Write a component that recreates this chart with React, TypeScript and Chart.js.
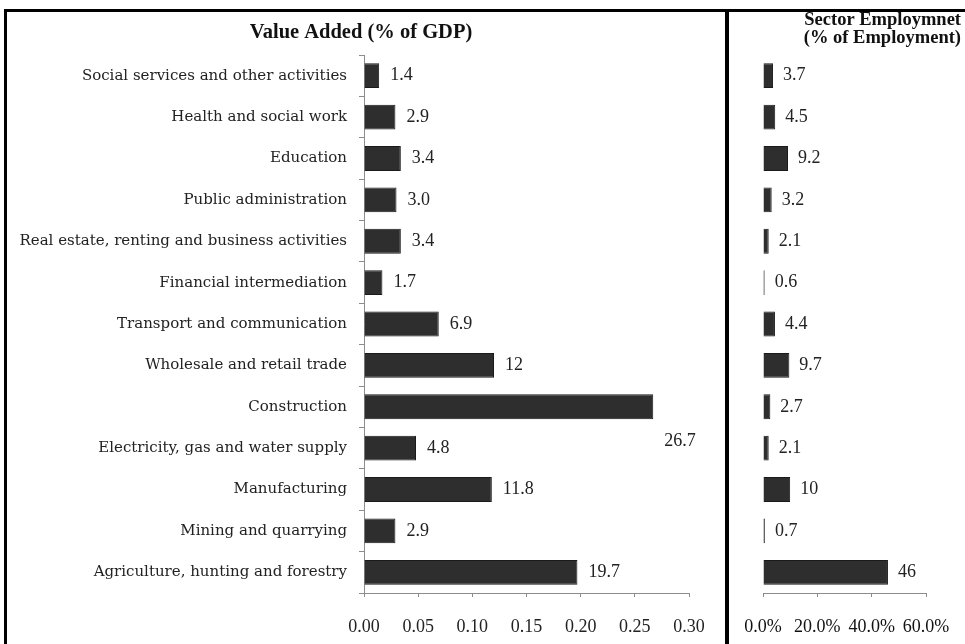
import React, { useEffect, useRef } from "react";
import { Chart, registerables } from "chart.js";

Chart.register(...registerables);

const categories = [
  "Social services and other activities",
  "Health and social work",
  "Education",
  "Public administration",
  "Real estate, renting and business activities",
  "Financial intermediation",
  "Transport and communication",
  "Wholesale and retail trade",
  "Construction",
  "Electricity, gas and water supply",
  "Manufacturing",
  "Mining and quarrying",
  "Agriculture, hunting and forestry",
];

const valueAdded = [0.014, 0.029, 0.034, 0.03, 0.034, 0.017, 0.069, 0.12, 0.267, 0.048, 0.118, 0.029, 0.197];
const valueAddedLabels = ["1.4", "2.9", "3.4", "3.0", "3.4", "1.7", "6.9", "12", "26.7", "4.8", "11.8", "2.9", "19.7"];
const valueAddedTicks = [0, 0.05, 0.1, 0.15, 0.2, 0.25, 0.3];

const employment = [3.7, 4.5, 9.2, 3.2, 2.1, 0.6, 4.4, 9.7, 2.7, 2.1, 10, 0.7, 46];
const employmentLabels = ["3.7", "4.5", "9.2", "3.2", "2.1", "0.6", "4.4", "9.7", "2.7", "2.1", "10", "0.7", "46"];
const employmentTicks = [0, 20, 40, 60];

const leftTitle = "Value Added (% of GDP)";
const rightTitle = ["Sector Employmnet", "(% of Employment)"];

const SERIF = "'Liberation Serif', 'Times New Roman', serif";
const CAT_FONT = "'DejaVu Serif', serif";
const BAR_FILL = "#2e2e2e";
const BAR_EDGE = "#1a1a1a";
const AXIS = "#8c8c8c";
const TEXT = "#222222";

function labelPlugin(labels: string[], shiftFor: (i: number) => { dx: number; dy: number }) {
  return {
    id: "barLabels",
    afterDatasetsDraw(chart: any) {
      const meta = chart.getDatasetMeta(0);
      const ctx = chart.ctx;
      ctx.save();
      ctx.font = `18px ${SERIF}`;
      ctx.fillStyle = TEXT;
      ctx.textAlign = "left";
      ctx.textBaseline = "middle";
      meta.data.forEach((bar: any, i: number) => {
        const s = shiftFor(i);
        ctx.fillText(labels[i], bar.x + 11 + s.dx, bar.y + s.dy);
      });
      ctx.restore();
    },
  };
}

function titlePlugin(lines: string[], x: number, ys: number[], align: CanvasTextAlign, size: number) {
  return {
    id: "panelTitle",
    afterDraw(chart: any) {
      const ctx = chart.ctx;
      ctx.save();
      ctx.font = `bold ${size}px ${SERIF}`;
      ctx.fillStyle = "#111";
      ctx.textAlign = align;
      ctx.textBaseline = "middle";
      lines.forEach((t, i) => ctx.fillText(t, x, ys[i]));
      ctx.restore();
    },
  };
}

const fitX = (scale: any) => {
  scale.height = 51;
  scale.paddingLeft = 0;
  scale.paddingRight = 0;
};

export default function App() {
  const leftRef = useRef<HTMLCanvasElement>(null);
  const rightRef = useRef<HTMLCanvasElement>(null);

  useEffect(() => {
    document.body.style.margin = "0";
    const constructionIndex = categories.indexOf("Construction");

    const left = new Chart(leftRef.current!, {
      type: "bar",
      data: {
        labels: categories,
        datasets: [
          {
            data: valueAdded,
            backgroundColor: BAR_FILL,
            borderColor: BAR_EDGE,
            borderWidth: 1,
            categoryPercentage: 1,
            barPercentage: 0.6,
          },
        ],
      },
      options: {
        indexAxis: "y",
        responsive: false,
        animation: false,
        layout: { padding: { left: 0, top: 55, right: 36, bottom: 0 } },
        plugins: { legend: { display: false }, tooltip: { enabled: false } },
        scales: {
          x: {
            min: 0,
            max: 0.3,
            afterBuildTicks: (scale: any) => {
              scale.ticks = valueAddedTicks.map((v) => ({ value: v }));
            },
            afterFit: fitX,
            grid: { drawOnChartArea: false, drawTicks: true, tickLength: 4, color: AXIS },
            border: { color: AXIS, width: 1 },
            ticks: {
              padding: 19,
              color: TEXT,
              font: { family: SERIF, size: 18 },
              callback: (v: any) => Number(v).toFixed(2),
            },
          },
          y: {
            afterFit: (scale: any) => {
              scale.width = 364;
            },
            grid: { drawOnChartArea: false, drawTicks: true, tickLength: 5, color: AXIS, offset: true },
            border: { color: AXIS, width: 1 },
            ticks: { padding: 12, color: TEXT, font: { family: CAT_FONT, size: 15 } },
          },
        },
      },
      plugins: [
        labelPlugin(valueAddedLabels, (i) => (i === constructionIndex ? { dx: 0, dy: 34 } : { dx: 0, dy: 0 })),
        titlePlugin([leftTitle], 361, [33], "center", 20.5),
      ],
    } as any);

    const right = new Chart(rightRef.current!, {
      type: "bar",
      data: {
        labels: categories,
        datasets: [
          {
            data: employment,
            backgroundColor: BAR_FILL,
            borderColor: BAR_EDGE,
            borderWidth: 1,
            categoryPercentage: 1,
            barPercentage: 0.6,
          },
        ],
      },
      options: {
        indexAxis: "y",
        responsive: false,
        animation: false,
        layout: { padding: { left: 34, top: 55, right: 39, bottom: 0 } },
        plugins: { legend: { display: false }, tooltip: { enabled: false } },
        scales: {
          x: {
            min: 0,
            max: 60,
            afterBuildTicks: (scale: any) => {
              scale.ticks = employmentTicks.map((v) => ({ value: v }));
            },
            afterFit: fitX,
            grid: { drawOnChartArea: false, drawTicks: true, tickLength: 4, color: AXIS },
            border: { color: AXIS, width: 1 },
            ticks: {
              padding: 19,
              color: "#111",
              font: { family: SERIF, size: 18 },
              maxRotation: 0,
              autoSkip: false,
              callback: (v: any) => Number(v).toFixed(1) + "%",
            },
          },
          y: { display: false },
        },
      },
      plugins: [
        labelPlugin(employmentLabels, () => ({ dx: -1, dy: 0 })),
        titlePlugin(rightTitle, 232, [20, 38], "right", 18.5),
      ],
    } as any);

    return () => {
      left.destroy();
      right.destroy();
    };
  }, []);

  return (
    <div style={{ position: "relative", width: 965, height: 644, background: "#fff", overflow: "hidden" }}>
      <canvas ref={leftRef} width={725} height={644} style={{ position: "absolute", left: 0, top: 0, display: "block" }} />
      <canvas ref={rightRef} width={236} height={644} style={{ position: "absolute", left: 729, top: 0, display: "block" }} />
      <div style={{ position: "absolute", left: 4, top: 9, width: 961, height: 3, background: "#000" }} />
      <div style={{ position: "absolute", left: 4, top: 9, width: 3, height: 635, background: "#000" }} />
      <div style={{ position: "absolute", left: 725, top: 9, width: 4, height: 635, background: "#000" }} />
    </div>
  );
}
